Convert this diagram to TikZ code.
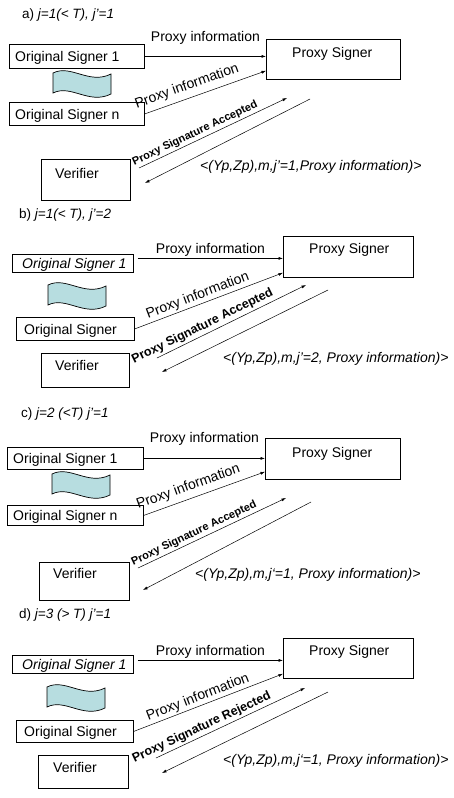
\documentclass[tikz,border=0pt]{standalone}
\usepackage{fontspec}
\setmainfont{Liberation Sans}
\usetikzlibrary{arrows.meta,calc}
\definecolor{flagfill}{RGB}{183,221,224}
\tikzset{
  box/.style={draw=black, line width=0.8pt, fill=white, inner sep=0pt, anchor=north west},
  txt/.style={inner sep=0pt, anchor=base west, font=\fontsize{14}{16}\selectfont},
  ttl/.style={inner sep=0pt, anchor=base west, font=\fontsize{13.5}{16}\selectfont},
  msg/.style={draw=black, line width=0.5pt, -{Latex[length=4.5pt,width=3pt]}},
  lbl/.style={inner sep=0pt, anchor=base, font=\fontsize{14}{16}\selectfont},
  status/.style={inner sep=0pt, anchor=base, sloped, font=\bfseries\fontsize{#1}{13}\selectfont},
  pics/wave/.style={code={
    \draw[line width=0.7pt, fill=flagfill]
      (0,0) .. controls (18,-9) and (36,12) .. (58,1) -- (58,21)
      .. controls (36,32) and (18,11) .. (0,20) -- cycle;}}
}
\begin{document}
\begin{tikzpicture}[x=1pt,y=-1pt]
\fill[white] (0,0) rectangle (454,798);
\useasboundingbox (0,0) rectangle (454,798);

% ---------------- a) ----------------
\node[ttl] (tA) at (22,18) {a) \textit{j=1(< T), j’=1}};
\node[box, minimum width=135, minimum height=24] (os1A) at (9,44) {};
\node[txt] (os1At) at (15,61) {Original Signer 1};
\node[box, minimum width=134, minimum height=40] (psA) at (266,39) {};
\node[txt] (psAt) at (292,57) {Proxy Signer};
\pic at (53,73) {wave};
\node[box, minimum width=135, minimum height=23] (osnA) at (9,102) {};
\node[txt] (osnAt) at (15,119) {Original Signer n};
\node[box, minimum width=89, minimum height=41] (verA) at (41,159) {};
\node[txt] (verAt) at (55,178) {Verifier};
\draw[msg] (os1A.east) -- node[lbl, midway, yshift=15pt] (piA1) {Proxy information} (os1A.east -| psA.west);
\coordinate (inA) at ($(psA.south west)+(0,-9)$);
\draw[msg] (osnA.east) -- node[lbl, sloped, pos=0.38, yshift=8pt] (piA2) {Proxy information} (inA);
\coordinate (accA1) at (139,168);
\coordinate (accA2) at (287,98);
\draw[msg] (accA1) -- node[status=11, pos=0.40, yshift=4.5pt] (stA) {Proxy Signature Accepted} (accA2);
\coordinate (retA1) at (310,99);
\coordinate (retA2) at (145,183);
\draw[msg] (retA1) -- (retA2);
\node[txt, font=\itshape\fontsize{14}{16}\selectfont] (sigA) at (200,170) {<(Yp,Zp),m,j’=1,Proxy information)>};

% ---------------- b) ----------------
\node[ttl] (tB) at (19,218) {b) \textit{j=1(< T), j’=2}};
\node[box, minimum width=121, minimum height=18] (os1B) at (12,254) {};
\node[txt, font=\itshape\fontsize{14}{16}\selectfont] (os1Bt) at (22,268) {Original Signer 1};
\node[box, minimum width=130, minimum height=41] (psB) at (283,236) {};
\node[txt] (psBt) at (309,253) {Proxy Signer};
\pic at (48,285) {wave};
\node[box, minimum width=118, minimum height=23] (osB) at (16,317) {};
\node[txt] (osBt) at (24,334) {Original Signer};
\node[box, minimum width=88, minimum height=34] (verB) at (41,353) {};
\node[txt] (verBt) at (55,370) {Verifier};
\coordinate (outB) at ($(os1B.east)+(4,-5)$);
\draw[msg] (outB) -- node[lbl, midway, yshift=5pt] (piB1) {Proxy information} (outB -| psB.west);
\coordinate (inB) at ($(psB.south west)+(0,-5)$);
\draw[msg] (osB.east) -- node[lbl, sloped, pos=0.445, yshift=5pt] (piB2) {Proxy information} (inB);
\coordinate (accB1) at (157,358);
\coordinate (accB2) at (306,285);
\draw[msg] (accB1) -- node[status=12.5, pos=0.33, yshift=5pt] (stB) {Proxy Signature Accepted} (accB2);
\coordinate (retB1) at (328,290);
\coordinate (retB2) at (162,372);
\draw[msg] (retB1) -- (retB2);
\node[txt, font=\itshape\fontsize{14}{16}\selectfont] (sigB) at (223,362) {<(Yp,Zp),m,j’=2, Proxy information)>};

% ---------------- c) ----------------
\node[ttl] (tC) at (21,417) {c) \textit{j=2 (<T) j’=1}};
\node[box, minimum width=136, minimum height=22] (os1C) at (7,447) {};
\node[txt] (os1Ct) at (13,463) {Original Signer 1};
\node[box, minimum width=135, minimum height=41] (psC) at (265,438) {};
\node[txt] (psCt) at (292,457) {Proxy Signer};
\pic at (52,474) {wave};
\node[box, minimum width=136, minimum height=20] (osnC) at (7,505) {};
\node[txt] (osnCt) at (13,520) {Original Signer n};
\node[box, minimum width=90, minimum height=38] (verC) at (39,562) {};
\node[txt] (verCt) at (53,578) {Verifier};
\draw[msg] (os1C.east) -- node[lbl, midway, yshift=16pt] (piC1) {Proxy information} (os1C.east -| psC.west);
\coordinate (inC) at ($(psC.south west)+(0,-8)$);
\draw[msg] (osnC.east) -- node[lbl, sloped, pos=0.40, yshift=8pt] (piC2) {Proxy information} (inC);
\coordinate (accC1) at (138,568);
\coordinate (accC2) at (286,498);
\draw[msg] (accC1) -- node[status=11, pos=0.40, yshift=4.5pt] (stC) {Proxy Signature Accepted} (accC2);
\coordinate (retC1) at (311,502);
\coordinate (retC2) at (143,590);
\draw[msg] (retC1) -- (retC2);
\node[txt, font=\itshape\fontsize{14}{16}\selectfont] (sigC) at (195,578) {<(Yp,Zp),m,j‘=1, Proxy information)>};

% ---------------- d) ----------------
\node[ttl] (tD) at (19,618) {d) \textit{j=3 (> T) j’=1}};
\node[box, minimum width=121, minimum height=18] (os1D) at (12,655) {};
\node[txt, font=\itshape\fontsize{14}{16}\selectfont] (os1Dt) at (22,669) {Original Signer 1};
\node[box, minimum width=130, minimum height=40] (psD) at (283,638) {};
\node[txt] (psDt) at (309,655) {Proxy Signer};
\pic at (47,687) {wave};
\node[box, minimum width=117, minimum height=22] (osD) at (16,720) {};
\node[txt] (osDt) at (24,736) {Original Signer};
\node[box, minimum width=90, minimum height=33] (verD) at (38,755) {};
\node[txt] (verDt) at (53,772) {Verifier};
\coordinate (outD) at ($(os1D.east)+(4,-4)$);
\draw[msg] (outD) -- node[lbl, midway, yshift=5pt] (piD1) {Proxy information} (outD -| psD.west);
\coordinate (inD) at ($(psD.south west)+(0,-5)$);
\draw[msg] (osD.east) -- node[lbl, sloped, pos=0.45, yshift=5pt] (piD2) {Proxy information} (inD);
\coordinate (rejD1) at (156,758);
\coordinate (rejD2) at (305,688);
\draw[msg] (rejD1) -- node[status=12.5, pos=0.33, yshift=5pt] (stD) {Proxy Signature Rejected} (rejD2);
\coordinate (retD1) at (328,692);
\coordinate (retD2) at (162,773);
\draw[msg] (retD1) -- (retD2);
\node[txt, font=\itshape\fontsize{14}{16}\selectfont] (sigD) at (223,764) {<(Yp,Zp),m,j‘=1, Proxy information)>};
\end{tikzpicture}
\end{document}
